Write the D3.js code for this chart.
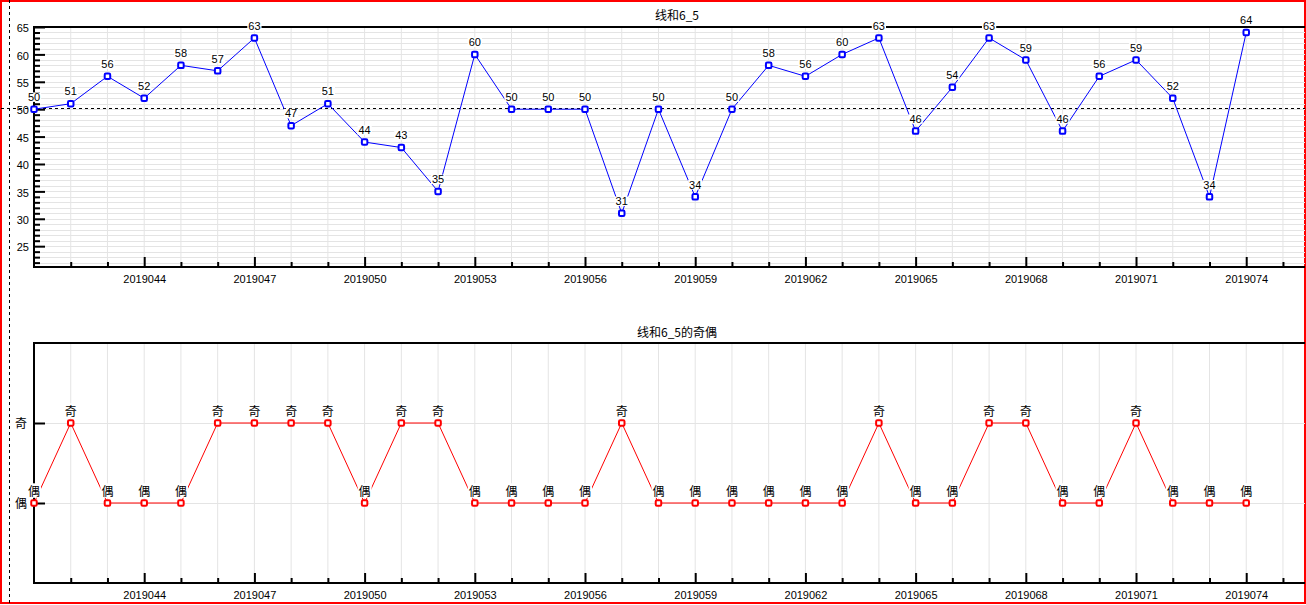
<!DOCTYPE html>
<html>
<head>
<meta charset="utf-8">
<script src="https://cdn.jsdelivr.net/npm/d3@7/dist/d3.min.js"></script>
<style>
  body { margin: 0; background: #fff; }
  svg { display: block; }
  .num { font-family: "Liberation Sans", Arial, sans-serif; font-size: 11px; }
  .cjk { font-family: "Noto Sans CJK SC", sans-serif; font-size: 12px; }
</style>
</head>
<body>
<svg id="chart" width="1306" height="605"></svg>
<script>
// ---- data ----
const periods = ["2019041","2019042","2019043","2019044","2019045","2019046","2019047","2019048","2019049","2019050",
  "2019051","2019052","2019053","2019054","2019055","2019056","2019057","2019058","2019059","2019060",
  "2019061","2019062","2019063","2019064","2019065","2019066","2019067","2019068","2019069","2019070",
  "2019071","2019072","2019073","2019074"];
const values = [50,51,56,52,58,57,63,47,51,44,43,35,60,50,50,50,31,50,34,50,58,56,60,63,46,54,63,59,46,56,59,52,34,64];
const parity = ["偶","奇","偶","偶","偶","奇","奇","奇","奇","偶","奇","奇","偶","偶","偶","偶","奇","偶","偶","偶",
  "偶","偶","偶","奇","偶","偶","奇","奇","偶","偶","奇","偶","偶","偶"];
const parityLevels = ["偶","奇"];
const yTicksTop = [25,30,35,40,45,50,55,60,65];
const refLine = 50.2;
const titleTop = "线和6_5";
const titleBottom = "线和6_5的奇偶";

const svg = d3.select("#chart");
const W = 1306, H = 605;

// frame
svg.append("rect").attr("x",1).attr("y",1).attr("width",1304).attr("height",602)
  .attr("fill","none").attr("stroke","#ff0000").attr("stroke-width",2);
svg.append("line").attr("x1",9.5).attr("x2",9.5).attr("y1",0).attr("y2",H)
  .attr("stroke","#000").attr("stroke-dasharray","3,3");

const x = d3.scaleLinear().domain([0, 34.6]).range([34, 1305]);
const allIdx = d3.range(0, 35);
const majorIdx = allIdx.filter(i => i % 3 === 0 && i > 0 && i < periods.length);
const minorIdx = allIdx.filter(i => !(i % 3 === 0) );

const yTop = d3.scaleLinear().domain([21.2, 65]).range([267, 27]);
const yBot = d3.scaleLinear().domain([-1, 2]).range([583, 343]);

function styleAxis(g) {
  g.selectAll(".domain").remove();
  g.selectAll(".tick line").attr("stroke","#000").attr("stroke-width",2);
}

function panel(y, yMajor, yMinor, yFmt, yClass, title, titleY) {
  const g = svg.append("g");
  const [y0, y1] = y.range(); // bottom, top
  const [x0, x1] = x.range();
  // grid
  g.append("g").selectAll("line").data(allIdx.filter(i => i > 0)).join("line")
    .attr("x1", d => x(d)).attr("x2", d => x(d)).attr("y1", y1).attr("y2", y0)
    .attr("stroke","#e4e4e4").attr("stroke-width",1);
  g.append("g").selectAll("line").data(yMinor.concat(yMajor)).join("line")
    .attr("x1", x0).attr("x2", x1).attr("y1", d => Math.round(y(d))+0.5).attr("y2", d => Math.round(y(d))+0.5)
    .attr("stroke","#e4e4e4").attr("stroke-width",1);

  // title
  svg.append("text").attr("class","cjk").attr("x",677).attr("y",titleY)
    .attr("text-anchor","middle").attr("fill","#000").text(title);

  // x axis
  const xa = g.append("g").attr("transform",`translate(0,${y0})`)
    .call(d3.axisBottom(x).tickValues(majorIdx).tickSize(-10).tickPadding(8).tickFormat(i => periods[i]));
  xa.selectAll("text").attr("class","num").attr("fill","#000").attr("font-family",null).attr("font-size",null);
  styleAxis(xa);
  const xm = g.append("g").attr("transform",`translate(0,${y0})`)
    .call(d3.axisBottom(x).tickValues(minorIdx.filter(i => i > 0)).tickSize(-5).tickFormat(""));
  styleAxis(xm);

  // y axis
  const ya = g.append("g").attr("transform",`translate(${x0},0)`)
    .call(d3.axisLeft(y).tickValues(yMajor).tickSize(-11).tickPadding(yClass === "cjk" ? 7 : 5).tickFormat(yFmt));
  ya.selectAll("text").attr("class", yClass).attr("fill","#000").attr("font-family",null).attr("font-size",null)
    .attr("dy", yClass === "cjk" ? "0.4em" : "0.42em");
  styleAxis(ya);
  if (yMinor.length) {
    const ym = g.append("g").attr("transform",`translate(${x0},0)`)
      .call(d3.axisLeft(y).tickValues(yMinor).tickSize(-6).tickFormat(""));
    styleAxis(ym);
  }

  // frame lines
  g.append("path").attr("d", `M${x0},${y1}V${y0}`).attr("stroke","#000").attr("stroke-width",2).attr("fill","none");
  g.append("path").attr("d", `M${x0-1},${y0}H${x1}`).attr("stroke","#000").attr("stroke-width",2).attr("fill","none");
  g.append("path").attr("d", `M${x0-1},${y1}H${x1}`).attr("stroke","#000").attr("stroke-width",2).attr("fill","none");

  return g;
}

function series(g, y, ys, labels, color, labelClass, baseOff) {
  const line = d3.line().x((d,i) => x(i)).y(d => y(d));
  g.append("path").datum(ys).attr("d", line).attr("fill","none").attr("stroke",color).attr("stroke-width",1);
  const lg = g.append("g");
  ys.forEach((v,i) => {
    const cx = x(i), cy = y(v);
    const t = lg.append("text").attr("class", labelClass).attr("x", cx).attr("y", cy - baseOff)
      .attr("text-anchor","middle").attr("fill","#000").text(labels[i]);
    const bb = t.node().getBBox();
    lg.insert("rect", () => t.node()).attr("x", bb.x - 1).attr("y", bb.y + 1.5)
      .attr("width", bb.width + 2).attr("height", bb.height - 2.5).attr("fill","#fff");
  });
  g.append("g").selectAll("rect").data(ys).join("rect")
    .attr("x", (d,i) => x(i) - 2.75).attr("y", d => y(d) - 2.75)
    .attr("width",5.5).attr("height",5.5).attr("rx",1.2)
    .attr("fill","#fff").attr("stroke",color).attr("stroke-width",2);
}

// top panel
const minorTop = d3.range(22, 65).filter(v => v % 5 !== 0);
const gTop = panel(yTop, yTicksTop, minorTop, d => d, "num", titleTop, 19.5);
// reference dashed line
gTop.append("line").attr("x1", 1).attr("x2", x.range()[1])
  .attr("y1", Math.round(yTop(refLine))+0.5).attr("y2", Math.round(yTop(refLine))+0.5)
  .attr("stroke","#000").attr("stroke-dasharray","3,3");
series(gTop, yTop, values, values, "#0000ff", "num", 8.3);

// bottom panel
const parityVals = parity.map(p => parityLevels.indexOf(p));
const gBot = panel(yBot, [0,1], [], d => parityLevels[d], "cjk", titleBottom, 337);
series(gBot, yBot, parityVals, parity, "#ff0000", "cjk", 7.2);
</script>
</body>
</html>
